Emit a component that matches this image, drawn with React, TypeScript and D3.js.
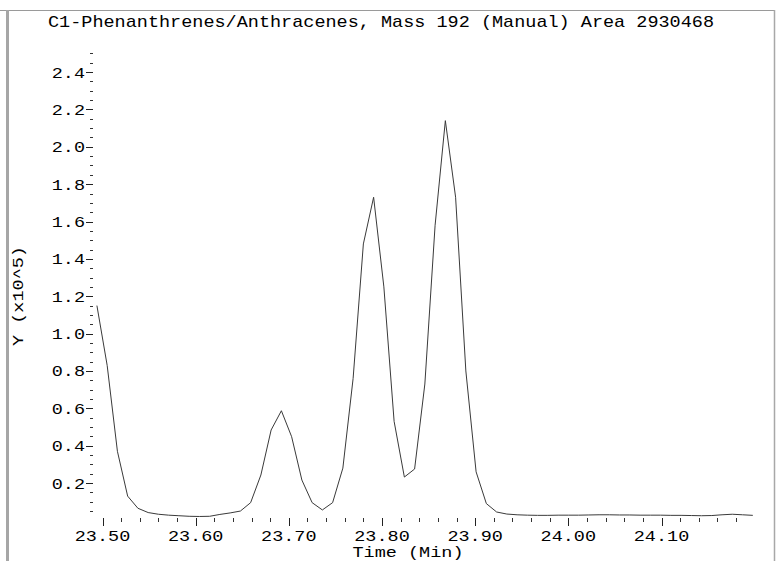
import * as d3 from 'd3';

const title = 'C1-Phenanthrenes/Anthracenes, Mass 192 (Manual) Area 2930468';
const xLabel = 'Time (Min)';
const yLabel = 'Y (x10^5)';

// retention time (min)
const times = [
  23.494, 23.505, 23.516, 23.527, 23.538, 23.549, 23.560, 23.571, 23.582, 23.593,
  23.604, 23.615, 23.626, 23.637, 23.648, 23.659, 23.670, 23.681, 23.692, 23.703,
  23.714, 23.725, 23.736, 23.747, 23.758, 23.769, 23.780, 23.791, 23.802, 23.813,
  23.824, 23.835, 23.846, 23.857, 23.868, 23.879, 23.890, 23.901, 23.912, 23.923,
  23.934, 23.945, 23.956, 23.967, 23.978, 23.989, 24.000, 24.011, 24.022, 24.033,
  24.044, 24.055, 24.066, 24.077, 24.088, 24.099, 24.110, 24.121, 24.132, 24.143,
  24.154, 24.165, 24.176, 24.187, 24.198,
];

// abundance (x10^5)
const abundance = [
  1.15, 0.83, 0.37, 0.13, 0.065, 0.042, 0.033, 0.028, 0.025, 0.022,
  0.021, 0.022, 0.032, 0.04, 0.05, 0.095, 0.243, 0.484, 0.587, 0.448,
  0.216, 0.095, 0.056, 0.095, 0.28, 0.76, 1.48, 1.73, 1.25, 0.53,
  0.232, 0.275, 0.73, 1.58, 2.14, 1.73, 0.80, 0.26, 0.09, 0.045,
  0.034, 0.03, 0.028, 0.027, 0.027, 0.028, 0.028, 0.028, 0.029, 0.03,
  0.03, 0.029, 0.029, 0.028, 0.028, 0.028, 0.027, 0.027, 0.026, 0.025,
  0.026, 0.03, 0.033, 0.03, 0.027,
];

const xTickValues = [23.5, 23.6, 23.7, 23.8, 23.9, 24.0, 24.1];
const xTickLabels = ['23.50', '23.60', '23.70', '23.80', '23.90', '24.00', '24.10'];
const yTickValues = [0.2, 0.4, 0.6, 0.8, 1.0, 1.2, 1.4, 1.6, 1.8, 2.0, 2.2, 2.4];
const yTickLabels = ['0.2', '0.4', '0.6', '0.8', '1.0', '1.2', '1.4', '1.6', '1.8', '2.0', '2.2', '2.4'];

const W = 783;
const H = 561;
const CHAR = 11.1; // monospace advance in the original
const FONT = '"Liberation Mono", "DejaVu Sans Mono", monospace';

export default function App() {
  const x = d3.scaleLinear().domain([23.5, 24.1]).range([102.5, 661.5]);
  const y = d3.scaleLinear().domain([0, 2.5]).range([520.4, 53.4]);

  const xMinor = d3.range(0, 35).map(i => 23.5 + i * 0.02);
  const yMinor = d3.range(1, 51).map(i => i * 0.05);

  const pts: [number, number][] = times.map((t, i) => [t, abundance[i]]);
  const line = d3.line<[number, number]>()
    .x(d => x(d[0]))
    .y(d => y(d[1]));

  const xAxisY = 518;

  return (
    <svg
      width={W}
      height={H}
      style={{ position: 'absolute', left: 0, top: 0, background: '#fff' }}
      fontFamily={FONT}
      fontSize={15}
    >
      <rect x={0} y={0} width={W} height={H} fill="#fff" />

      {/* frame */}
      <line x1={0} x2={774.5} y1={10.5} y2={10.5} stroke="#9a9a9a" strokeWidth={1} />
      <line x1={774.5} x2={774.5} y1={10} y2={H} stroke="#a8a8a8" strokeWidth={1.5} />
      <rect x={6} y={10} width={3} height={H - 10} fill="#a6a6a6" />

      {/* title */}
      <text x={48} y={27} fontSize={17} fill="#000" textLength={title.length * CHAR} lengthAdjust="spacingAndGlyphs">
        {title}
      </text>

      {/* y ticks */}
      {yMinor.map((v, i) => (
        <line key={'ym' + i} x1={90} x2={93} y1={Math.round(y(v)) + 0.5} y2={Math.round(y(v)) + 0.5}
          stroke="#333" strokeWidth={1} />
      ))}
      {yTickValues.map((v, i) => (
        <g key={'yt' + i}>
          <line x1={86} x2={93} y1={Math.round(y(v)) + 0.5} y2={Math.round(y(v)) + 0.5} stroke="#222" strokeWidth={1} />
          <text x={85} y={y(v) + 5.5} textAnchor="end" fill="#000"
            textLength={yTickLabels[i].length * CHAR} lengthAdjust="spacingAndGlyphs">
            {yTickLabels[i]}
          </text>
        </g>
      ))}

      {/* x ticks */}
      {xMinor.map((v, i) => (
        <line key={'xm' + i} x1={Math.round(x(v)) + 0.5} x2={Math.round(x(v)) + 0.5} y1={xAxisY} y2={xAxisY + 4}
          stroke="#333" strokeWidth={1} />
      ))}
      {xTickValues.map((v, i) => (
        <g key={'xt' + i}>
          <line x1={Math.round(x(v)) + 0.5} x2={Math.round(x(v)) + 0.5} y1={xAxisY} y2={xAxisY + 8} stroke="#222" strokeWidth={1} />
          <text x={x(v)} y={541} textAnchor="middle" fill="#000"
            textLength={xTickLabels[i].length * CHAR} lengthAdjust="spacingAndGlyphs">
            {xTickLabels[i]}
          </text>
        </g>
      ))}

      {/* axis titles */}
      <text x={408} y={556.5} fontSize={14} textAnchor="middle" fill="#000"
        textLength={xLabel.length * CHAR} lengthAdjust="spacingAndGlyphs">
        {xLabel}
      </text>
      <text transform="translate(23,296) rotate(-90)" fontSize={14} textAnchor="middle" fill="#000"
        textLength={yLabel.length * CHAR} lengthAdjust="spacingAndGlyphs">
        {yLabel}
      </text>

      {/* trace */}
      <path d={line(pts) || ''} fill="none" stroke="#3a3a3a" strokeWidth={1} />
    </svg>
  );
}
